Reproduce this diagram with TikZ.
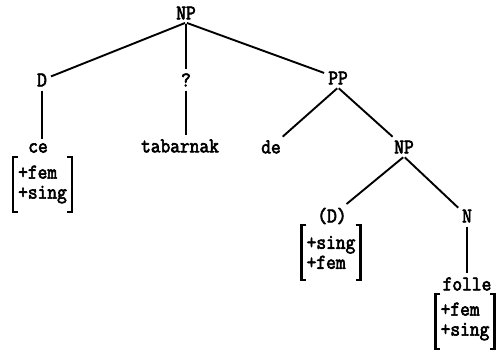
\documentclass[tikz,border=0pt]{standalone}
\usepackage{fontspec}
\newfontfamily\typew[FakeBold=3, FakeStretch=0.9]{Latin Modern Mono}

\begin{document}
\begin{tikzpicture}[x=1pt,y=-1pt]
  \tikzset{lab/.style={font={\typew\fontsize{21}{20}\selectfont}, inner sep=3pt}}
  \tikzset{feat/.style={lab, align=left, inner xsep=5pt, minimum height=55pt}}
  \tikzset{br/.style={line width=2.2pt}}
  \tikzset{edge/.style={line width=1.9pt, shorten <=1pt, shorten >=1pt}}
  \useasboundingbox (0,0) rectangle (502,351);
  % top level
  \node[lab] (np) at (186,13) {NP};
  \node[lab] (d) at (42,80) {D};
  \node[lab] (q) at (186,80) {?};
  \node[lab] (pp) at (338,78) {PP};
  \draw[edge] (np.south) -- (d);
  \draw[edge] (np.south) -- (q);
  \draw[edge] (np.south) -- (pp);
  % leaves under D and ?
  \node[lab] (ce) at (38,148) {ce};
  \node[feat] (cefeat) at (42.5,184.5) {+fem\\+sing};
  \node[lab] (tab) at (180,146) {tabarnak};
  \draw[edge] (d.south) -- (d.south |- ce.north);
  \draw[edge] (q.south) -- (q.south |- tab.north);
  % PP
  \node[lab] (de) at (271,147) {de};
  \node[lab] (np2) at (404,147) {NP};
  \draw[edge] (pp.south) -- (de);
  \draw[edge] (pp.south) -- (np2);
  % lower NP
  \node[lab] (dd) at (332,216) {(D)};
  \node[feat] (ddfeat) at (331,252.5) {+sing\\+fem};
  \node[lab] (n) at (467,216) {N};
  \node[lab] (folle) at (467,284) {folle};
  \node[feat] (follefeat) at (465,321.5) {+fem\\+sing};
  \draw[edge] (np2.south) -- (dd);
  \draw[edge] (np2.south) -- (n);
  \draw[edge] (n.south) -- (folle.north);
  % brackets
  \foreach \f in {cefeat,ddfeat,follefeat} {
    \draw[br] ([xshift=5pt]\f.north west) -- (\f.north west) -- (\f.south west) -- ([xshift=5pt]\f.south west);
    \draw[br] ([xshift=-5pt]\f.north east) -- (\f.north east) -- (\f.south east) -- ([xshift=-5pt]\f.south east);
  }
\end{tikzpicture}
\end{document}
